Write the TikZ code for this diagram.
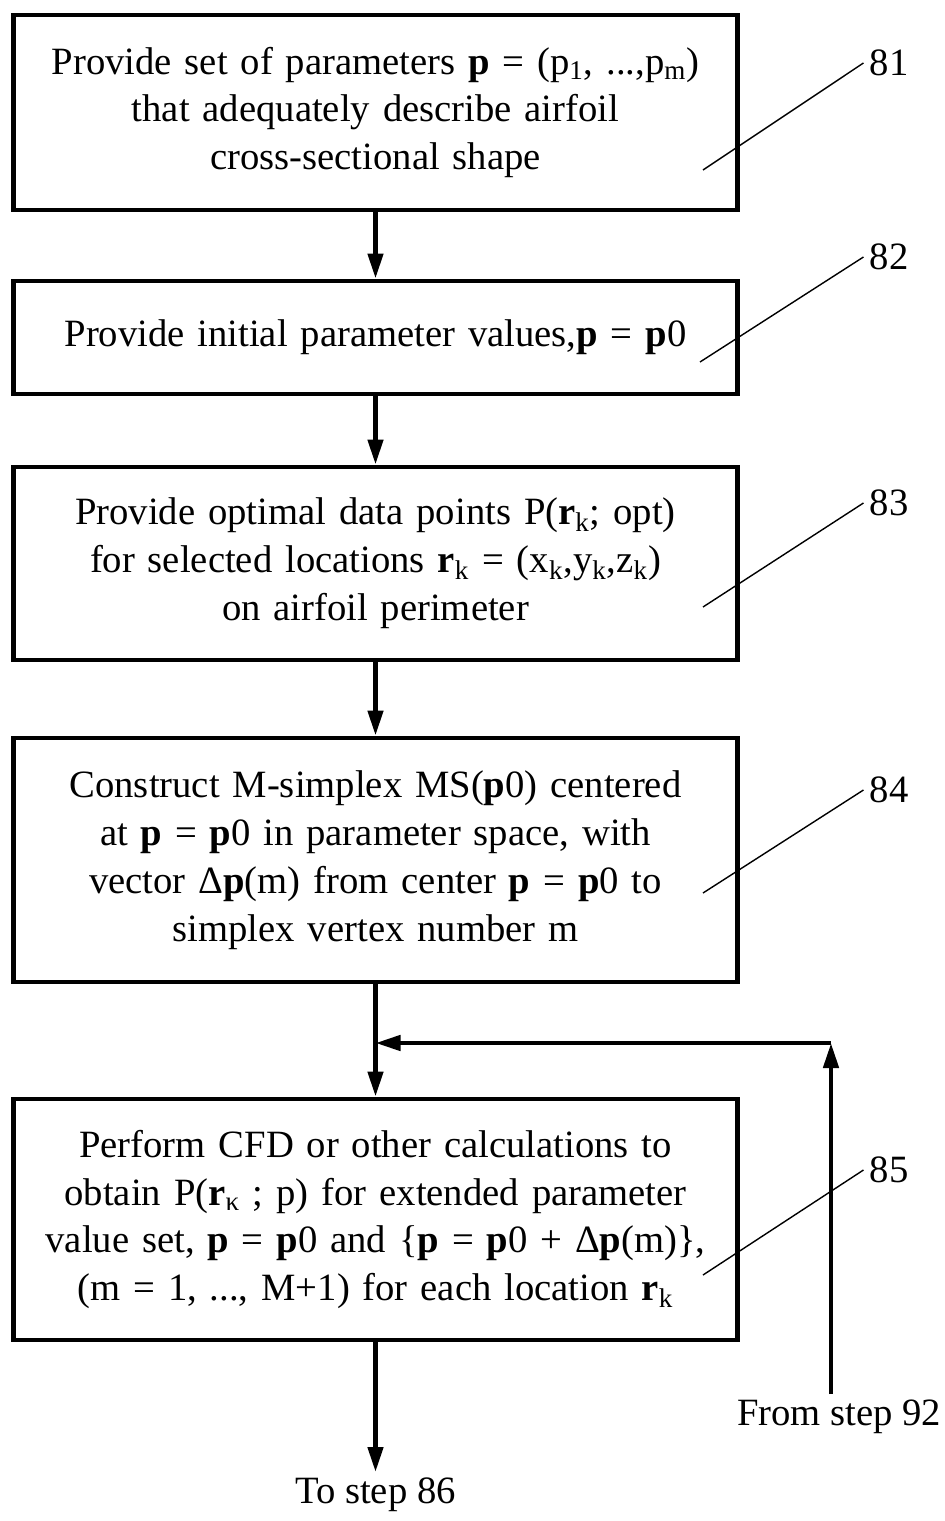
\documentclass[tikz,border=0pt]{standalone}
\usepackage{fontspec}
\setmainfont{Liberation Serif}
\usetikzlibrary{arrows.meta}

\begin{document}
\begin{tikzpicture}[x=0.02cm, y=-0.02cm,
    every node/.style={font=\fontsize{22}{27.3}\selectfont},
    passo/.style={draw, line width=2.8pt, align=center, minimum width=14.5cm, text width=14.3cm, inner sep=0pt},
    freccia/.style={line width=2.6pt, -{Triangle[length=0.5cm, width=0.3cm]}},
    richiamo/.style={line width=0.8pt}]
  \useasboundingbox (0,0) rectangle (945,1521);

  % Blocchi
  \node (A) at (375.5,112.5) [passo, minimum height=3.9cm]
    {Provide set of parameters \textbf{p} = (p\textsubscript{1}, ...,p\textsubscript{m})\\
     that adequately describe airfoil\\
     cross-sectional shape};
  \node (B) at (375.5,337.5) [passo, minimum height=2.26cm]
    {Provide initial parameter values,\textbf{p} = \textbf{p}0};
  \node (C) at (375.5,563.5) [passo, minimum height=3.86cm]
    {Provide optimal data points P(\textbf{r}\textsubscript{k}; opt)\\
     for selected locations \textbf{r}\textsubscript{k} = (x\textsubscript{k},y\textsubscript{k},z\textsubscript{k})\\
     on airfoil perimeter};
  \node (D) at (375.5,860) [passo, minimum height=4.88cm]
    {Construct M-simplex MS(\textbf{p}0) centered\\
     at \textbf{p} = \textbf{p}0 in parameter space, with\\
     vector Δ\textbf{p}(m) from center \textbf{p} = \textbf{p}0 to\\
     simplex vertex number m};
  \node (E) at (375.5,1219.5) [passo, minimum height=4.82cm]
    {Perform CFD or other calculations to\\
     obtain P(\textbf{r}\textsubscript{κ} ; p) for extended parameter\\
     value set, \textbf{p} = \textbf{p}0 and \{\textbf{p} = \textbf{p}0 + Δ\textbf{p}(m)\},\\
     (m = 1, ..., M+1) for each location \textbf{r}\textsubscript{k}};

  % Ingresso e uscita
  \node (T86) at (375.5,1472) [anchor=north] {To step 86};
  \node (F92) at (839,1394) [anchor=north] {From step 92};
  \coordinate (J) at (375.5,1043);
  \coordinate (K) at (831,1043);

  % Collegamenti
  \draw[freccia] (A) -- (B);
  \draw[freccia] (B) -- (C);
  \draw[freccia] (C) -- (D);
  \draw[freccia] (D) -- (E);
  \draw[freccia] (E) -- (T86);
  \draw[freccia] (K |- F92.north) -- (K);
  \draw[freccia] (K) -- (J);

  % Riferimenti
  \node (L81) at (889,63) {81};
  \node (L82) at (889,257) {82};
  \node (L83) at (889,503) {83};
  \node (L84) at (889,790) {84};
  \node (L85) at (889,1170) {85};
  \coordinate (c81) at (703,170);
  \coordinate (c82) at (700,362);
  \coordinate (c83) at (703,607);
  \coordinate (c84) at (703,893);
  \coordinate (c85) at (703,1275);
  \draw[richiamo] (c81) -- (L81.west);
  \draw[richiamo] (c82) -- (L82.west);
  \draw[richiamo] (c83) -- (L83.west);
  \draw[richiamo] (c84) -- (L84.west);
  \draw[richiamo] (c85) -- (L85.west);
\end{tikzpicture}
\end{document}
